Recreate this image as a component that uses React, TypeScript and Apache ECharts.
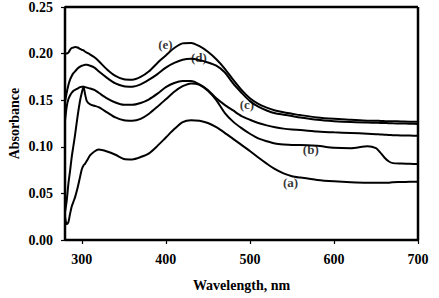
import React, { useEffect, useRef } from "react";
import * as echarts from "echarts";

// Wavelength sampling (nm) shared by every spectrum
const wavelengths = [
  280, 282, 284, 286, 288, 290, 292, 295, 298, 300,
  302, 304, 306, 310, 315, 320, 330, 340, 350, 360,
  370, 380, 390, 400, 410, 420, 430, 440, 450, 460,
  470, 480, 490, 500, 510, 520, 530, 540, 550, 560,
  580, 600, 620, 640, 650, 655, 660, 665, 670, 680,
  690, 700,
];

const absorbanceA = [
  0.025, 0.017, 0.019, 0.028, 0.036, 0.041, 0.046, 0.056, 0.068, 0.076,
  0.08, 0.082, 0.085, 0.091, 0.095, 0.097, 0.095, 0.0915, 0.087, 0.0865,
  0.089, 0.093, 0.101, 0.11, 0.119, 0.1265, 0.1285, 0.128, 0.1255, 0.121,
  0.115, 0.1085, 0.102, 0.0955, 0.0885, 0.082, 0.076, 0.0715, 0.0685, 0.067,
  0.0645, 0.063, 0.062, 0.0615, 0.0615, 0.0615, 0.0613, 0.0615, 0.062, 0.0622,
  0.0625, 0.0626,
];

const absorbanceB = [
  0.03, 0.042, 0.06, 0.074, 0.089, 0.101, 0.113, 0.133, 0.15, 0.158,
  0.1645, 0.156, 0.149, 0.1455, 0.144, 0.1425, 0.137, 0.1315, 0.1285, 0.128,
  0.13, 0.1355, 0.143, 0.151, 0.159, 0.165, 0.168, 0.1665, 0.16, 0.15,
  0.1365, 0.127, 0.12, 0.114, 0.109, 0.106, 0.1035, 0.1025, 0.102, 0.102,
  0.101, 0.099, 0.0985, 0.1005, 0.0985, 0.094, 0.0885, 0.0845, 0.0825, 0.082,
  0.0818, 0.0815,
];

const absorbanceC = [
  0.128, 0.143, 0.151, 0.155, 0.158, 0.16, 0.161, 0.1625, 0.164, 0.1645,
  0.1645, 0.164, 0.1635, 0.1625, 0.161, 0.158, 0.152, 0.1475, 0.145, 0.145,
  0.147, 0.151, 0.157, 0.164, 0.1685, 0.1705, 0.1705, 0.167, 0.161, 0.152,
  0.145, 0.139, 0.133, 0.129, 0.1255, 0.123, 0.121, 0.1195, 0.1185, 0.118,
  0.1165, 0.1155, 0.1148, 0.114, 0.1135, 0.1133, 0.113, 0.1127, 0.1125, 0.1122,
  0.112, 0.1118,
];

const absorbanceD = [
  0.148, 0.158, 0.166, 0.172, 0.176, 0.179, 0.181, 0.184, 0.186, 0.187,
  0.1875, 0.188, 0.188, 0.187, 0.185, 0.181, 0.174, 0.168, 0.165, 0.1645,
  0.167, 0.172, 0.178, 0.185, 0.19, 0.1935, 0.1945, 0.193, 0.1905, 0.187,
  0.18, 0.168, 0.158, 0.149, 0.143, 0.139, 0.136, 0.1345, 0.133, 0.1315,
  0.129, 0.1275, 0.1265, 0.126, 0.1258, 0.1256, 0.1255, 0.1254, 0.1252, 0.125,
  0.1248, 0.1245,
];

const absorbanceE = [
  0.2, 0.2, 0.201, 0.204, 0.206, 0.2065, 0.207, 0.2065, 0.205, 0.204,
  0.2035, 0.202, 0.201, 0.199, 0.196, 0.192, 0.183, 0.176, 0.1725, 0.172,
  0.175, 0.181, 0.19, 0.198, 0.206, 0.211, 0.2115, 0.208, 0.202, 0.194,
  0.184, 0.172, 0.161, 0.152, 0.146, 0.142, 0.139, 0.137, 0.1355, 0.134,
  0.1315, 0.13, 0.129, 0.128, 0.128, 0.1278, 0.1276, 0.1275, 0.1274, 0.1272,
  0.127, 0.127,
];

const spectra = [
  { name: "(a)", values: absorbanceA },
  { name: "(b)", values: absorbanceB },
  { name: "(c)", values: absorbanceC },
  { name: "(d)", values: absorbanceD },
  { name: "(e)", values: absorbanceE },
];

// Curve tags, anchored in data coordinates (nm, absorbance)
const tagNames = ["(a)", "(b)", "(c)", "(d)", "(e)"];
const tagWavelengths = [549, 573, 497, 440, 400];
const tagAbsorbances = [0.061, 0.0966, 0.145, 0.195, 0.209];

const xTickValues = [300, 400, 500, 600, 700];

const xTitle = "Wavelength, nm";
const yTitle = "Absorbance";

const FONT = "Liberation Serif";

const textBase = {
  color: "#000",
  fontFamily: FONT,
  fontWeight: "bold" as const,
  fontSize: 14,
};

// Plot box in pixels (layout only)
const GRID = { left: 65, right: 21, top: 7, bottom: 58 };
const W = 439;
const H = 298;

export default function App() {
  const ref = useRef<HTMLDivElement>(null);

  useEffect(() => {
    if (!ref.current) return;
    const chart = echarts.init(ref.current, null, { renderer: "svg" });

    const lineSeries = spectra.map((s) => ({
      type: "line",
      name: s.name,
      data: wavelengths.map((w, i) => [w, s.values[i]]),
      showSymbol: false,
      smooth: 0.25,
      itemStyle: { color: "#000" },
      lineStyle: { color: "#000", width: 2 },
      z: 2,
    }));

    const tagSeries = {
      type: "scatter",
      symbolSize: 1,
      silent: true,
      itemStyle: { color: "rgba(0,0,0,0)" },
      data: tagNames.map((n, i) => ({
        name: n,
        value: [tagWavelengths[i], tagAbsorbances[i]],
      })),
      label: {
        show: true,
        position: [0, 0],
        align: "center",
        verticalAlign: "middle",
        formatter: "{b}",
        ...textBase,
        fontSize: 13,
        textBorderWidth: 0,
      },
      z: 3,
    };

    const x0 = GRID.left;
    const y0 = GRID.top;
    const x1 = W - GRID.right;
    const y1 = H - GRID.bottom;
    const frameStyle = { stroke: "#000", lineWidth: 2.5 };

    chart.setOption({
      animation: false,
      backgroundColor: "#fff",
      grid: {
        ...GRID,
        containLabel: false,
        outerBoundsMode: "none",
      },
      graphic: [
        // plot frame, one edge per line
        { type: "line", silent: true, z: 5, shape: { x1: x0, y1: y0, x2: x1, y2: y0 }, style: frameStyle },
        { type: "line", silent: true, z: 5, shape: { x1: x1, y1: y0, x2: x1, y2: y1 }, style: frameStyle },
        { type: "line", silent: true, z: 5, shape: { x1: x0, y1: y1, x2: x1, y2: y1 }, style: frameStyle },
        { type: "line", silent: true, z: 5, shape: { x1: x0, y1: y0, x2: x0, y2: y1 }, style: frameStyle },
        {
          type: "text",
          silent: true,
          x: 14,
          y: (y0 + y1) / 2,
          rotation: Math.PI / 2,
          style: {
            text: yTitle,
            fill: "#000",
            font: `bold 14px ${FONT}`,
            textAlign: "center",
            textVerticalAlign: "middle",
          },
        },
        {
          type: "text",
          silent: true,
          x: (x0 + x1) / 2,
          y: 285,
          style: {
            text: xTitle,
            fill: "#000",
            font: `bold 14px ${FONT}`,
            textAlign: "center",
            textVerticalAlign: "middle",
          },
        },
      ],
      xAxis: {
        type: "value",
        min: 280,
        max: 700,
        splitLine: { show: false },
        axisLine: { show: true, lineStyle: { color: "#000", width: 2 } },
        axisTick: {
          show: true,
          length: 4,
          customValues: xTickValues,
          lineStyle: { color: "#000", width: 1.2 },
        },
        axisLabel: {
          customValues: xTickValues,
          margin: 12,
          ...textBase,
        },
      },
      yAxis: {
        type: "value",
        min: 0,
        max: 0.25,
        interval: 0.05,
        splitLine: { show: false },
        axisLine: { show: true, lineStyle: { color: "#000", width: 2 } },
        axisTick: { show: true, length: 4, lineStyle: { color: "#000", width: 1.2 } },
        axisLabel: {
          margin: 12,
          ...textBase,
          formatter: (v: number) => v.toFixed(2),
        },
      },
      series: [...lineSeries, tagSeries],
    });

    return () => chart.dispose();
  }, []);

  return (
    <div
      ref={ref}
      style={{
        position: "fixed",
        left: 0,
        top: 0,
        width: W,
        height: H,
        background: "#fff",
      }}
    />
  );
}
